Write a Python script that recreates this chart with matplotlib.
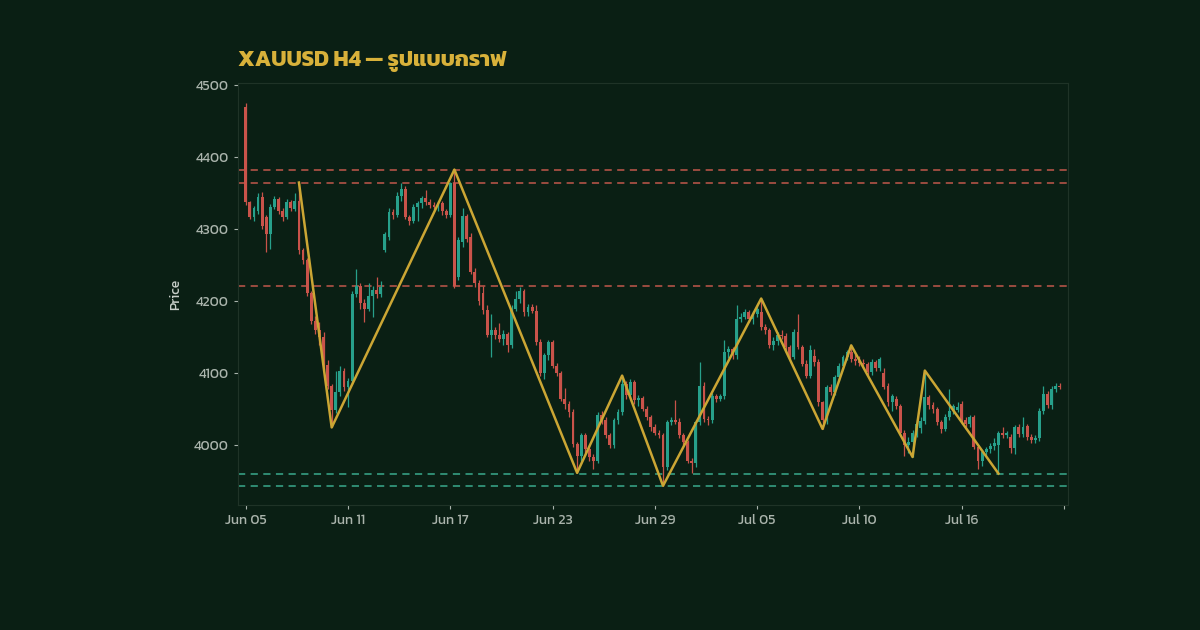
import matplotlib
matplotlib.use("Agg")
import matplotlib.pyplot as plt
from matplotlib import font_manager, ft2font

# H4 candles, index 0..199
opens = [4470, 4338, 4317, 4325, 4345, 4317, 4294, 4331, 4342, 4326,
         4317, 4338, 4328, 4340, 4271, 4257, 4211, 4173, 4160, 4150,
         4112, 4083, 4049, 4074, 4104, 4081, 4090, 4210, 4221, 4198,
         4190, 4208, 4216, 4210, 4271, 4289, 4324, 4320, 4347, 4356,
         4317, 4312, 4331, 4336, 4343, 4338, 4334, 4331, 4336, 4325,
         4320, 4364, 4234, 4283, 4319, 4290, 4241, 4225, 4212, 4188,
         4153, 4160, 4153, 4148, 4155, 4139, 4190, 4204, 4214, 4185,
         4192, 4187, 4143, 4100, 4125, 4143, 4111, 4100, 4065, 4058,
         4046, 4002, 3986, 4014, 3995, 3984, 3979, 4042, 4035, 4014,
         4001, 4035, 4046, 4086, 4070, 4088, 4063, 4066, 4051, 4039,
         4025, 4018, 4014, 3970, 4032, 4035, 4033, 4014, 4005, 3979,
         3975, 4032, 4083, 4037, 4035, 4069, 4065, 4068, 4130, 4134,
         4125, 4176, 4178, 4185, 4176, 4182, 4185, 4164, 4160, 4139,
         4145, 4154, 4152, 4137, 4123, 4157, 4137, 4113, 4097, 4124,
         4116, 4060, 4035, 4081, 4074, 4095, 4111, 4123, 4130, 4120,
         4117, 4114, 4113, 4102, 4116, 4107, 4100, 4083, 4060, 4065,
         4055, 4018, 4000, 4005, 4018, 4024, 4034, 4067, 4056, 4050,
         4032, 4023, 4039, 4048, 4049, 4058, 4035, 4030, 4039, 3998,
         3979, 3991, 3995, 3999, 4000, 4018, 4014, 4012, 3996, 4025,
         4016, 4027, 4012, 4007, 4010, 4048, 4072, 4056, 4079, 4083]
highs = [4476, 4340, 4333, 4350, 4352, 4320, 4335, 4347, 4345, 4330,
         4342, 4341, 4350, 4365, 4274, 4260, 4214, 4180, 4172, 4158,
         4118, 4086, 4104, 4110, 4108, 4094, 4214, 4245, 4226, 4203,
         4225, 4222, 4234, 4228, 4296, 4330, 4328, 4352, 4365, 4360,
         4320, 4335, 4340, 4346, 4354, 4342, 4338, 4340, 4339, 4328,
         4366, 4383, 4290, 4329, 4322, 4295, 4246, 4230, 4222, 4195,
         4183, 4165, 4170, 4160, 4158, 4195, 4215, 4220, 4217, 4196,
         4196, 4195, 4148, 4128, 4146, 4146, 4115, 4104, 4080, 4062,
         4050, 4005, 4018, 4018, 4000, 3988, 4046, 4048, 4040, 4018,
         4038, 4050, 4097, 4090, 4092, 4091, 4070, 4069, 4055, 4042,
         4030, 4022, 4017, 4036, 4040, 4063, 4038, 4018, 4008, 3982,
         4036, 4116, 4088, 4041, 4073, 4072, 4072, 4146, 4138, 4137,
         4195, 4184, 4190, 4188, 4186, 4194, 4204, 4168, 4163, 4150,
         4158, 4160, 4156, 4140, 4162, 4183, 4140, 4118, 4140, 4134,
         4120, 4062, 4084, 4085, 4098, 4115, 4126, 4133, 4139, 4127,
         4124, 4120, 4116, 4120, 4119, 4123, 4108, 4087, 4072, 4068,
         4058, 4022, 4012, 4022, 4036, 4040, 4104, 4070, 4060, 4054,
         4036, 4044, 4079, 4058, 4060, 4062, 4040, 4042, 4043, 4000,
         3994, 3998, 4003, 4010, 4020, 4025, 4020, 4016, 4028, 4030,
         4039, 4030, 4016, 4014, 4052, 4083, 4076, 4082, 4087, 4087]
lows = [4334, 4314, 4312, 4322, 4300, 4268, 4273, 4328, 4322, 4312,
        4314, 4325, 4325, 4266, 4252, 4208, 4168, 4155, 4140, 4105,
        4078, 4025, 4045, 4068, 4076, 4053, 4086, 4206, 4190, 4171,
        4186, 4178, 4205, 4206, 4268, 4285, 4315, 4317, 4340, 4314,
        4306, 4309, 4312, 4330, 4334, 4330, 4327, 4326, 4320, 4316,
        4317, 4218, 4230, 4276, 4283, 4238, 4220, 4195, 4183, 4150,
        4123, 4148, 4143, 4140, 4130, 4135, 4186, 4198, 4180, 4180,
        4184, 4140, 4097, 4092, 4118, 4108, 4096, 4062, 4050, 4040,
        3998, 3962, 3978, 3990, 3978, 3968, 3975, 4030, 4010, 3996,
        3997, 4030, 4042, 4065, 4066, 4058, 4055, 4048, 4035, 4020,
        4014, 4010, 3944, 3966, 4028, 4030, 4010, 4000, 3975, 3962,
        3970, 4028, 4033, 4028, 4031, 4060, 4062, 4064, 4122, 4120,
        4120, 4172, 4175, 4172, 4168, 4178, 4160, 4155, 4135, 4132,
        4140, 4148, 4130, 4120, 4120, 4134, 4110, 4094, 4094, 4110,
        4055, 4023, 4030, 4070, 4070, 4090, 4106, 4118, 4116, 4112,
        4110, 4108, 4098, 4098, 4104, 4104, 4078, 4055, 4048, 4050,
        4015, 3986, 3990, 3984, 4012, 4018, 4030, 4050, 4045, 4028,
        4018, 4020, 4035, 4044, 4046, 4030, 4026, 4026, 3995, 3968,
        3972, 3986, 3990, 3994, 3961, 4010, 4010, 3990, 3988, 4012,
        4012, 4008, 4003, 4003, 4006, 4044, 4052, 4050, 4074, 4078]
closes = [4338, 4317, 4329, 4345, 4305, 4294, 4331, 4342, 4326, 4317,
          4338, 4330, 4340, 4271, 4257, 4211, 4173, 4160, 4150, 4112,
          4083, 4049, 4074, 4104, 4081, 4090, 4210, 4221, 4198, 4190,
          4208, 4216, 4210, 4220, 4294, 4324, 4320, 4347, 4356, 4317,
          4312, 4331, 4336, 4343, 4338, 4334, 4331, 4336, 4325, 4320,
          4364, 4222, 4285, 4319, 4287, 4241, 4225, 4201, 4188, 4153,
          4160, 4153, 4148, 4155, 4139, 4190, 4204, 4214, 4185, 4192,
          4187, 4143, 4100, 4125, 4143, 4111, 4100, 4065, 4058, 4046,
          4002, 3986, 4014, 3995, 3984, 3979, 4042, 4035, 4014, 4001,
          4035, 4046, 4086, 4070, 4088, 4063, 4066, 4051, 4039, 4025,
          4018, 4014, 3970, 4032, 4035, 4033, 4014, 4005, 3979, 3975,
          4032, 4083, 4037, 4035, 4069, 4065, 4068, 4130, 4134, 4125,
          4176, 4178, 4185, 4176, 4182, 4190, 4164, 4160, 4139, 4145,
          4154, 4152, 4137, 4123, 4157, 4137, 4113, 4097, 4132, 4116,
          4060, 4035, 4081, 4074, 4095, 4111, 4123, 4130, 4120, 4117,
          4114, 4113, 4102, 4116, 4107, 4120, 4081, 4060, 4068, 4055,
          4018, 4000, 4005, 4018, 4030, 4034, 4067, 4056, 4050, 4032,
          4023, 4039, 4048, 4055, 4053, 4035, 4030, 4039, 3998, 3979,
          3991, 3995, 3999, 4003, 4018, 4014, 4017, 3996, 4025, 4016,
          4025, 4012, 4007, 4010, 4048, 4072, 4056, 4079, 4083, 4081]

zz_idx = [13, 21, 51, 81, 92, 102, 126, 141, 148, 163, 166, 184]
zz_price = [4365, 4025, 4383, 3962, 4097, 3944, 4204, 4023, 4139, 3984, 4104, 3961]

resistance = [4383, 4365, 4222]
support = [3961, 3944]

tick_pos = [0, 25, 50, 75, 100, 125, 150, 175, 200]
tick_lab = ['Jun 05', 'Jun 11', 'Jun 17', 'Jun 23', 'Jun 29', 'Jul 05', 'Jul 10', 'Jul 16', '']

BG = '#0a1f14'
UP = '#27a08b'
DOWN = '#c9534a'
GOLD = '#d8b13a'


def find_thai():
    # prefer a rounded Thai face (Kanit / Prompt) when one is present
    found = []
    for f in font_manager.fontManager.ttflist:
        try:
            if 0x0E23 in ft2font.FT2Font(f.fname).get_charmap():
                found.append(f.name)
        except Exception:
            pass
    for pref in ['Kanit', 'Prompt', 'Mitr', 'Sarabun', 'Noto Sans Thai', 'Noto Sans Thai Looped']:
        if pref in found:
            return pref
    return found[0] if found else None


thai = find_thai()
fams = [thai, 'DejaVu Sans'] if thai else ['DejaVu Sans']
plt.rcParams['font.family'] = fams

fig = plt.figure(figsize=(12, 6.3), dpi=100, facecolor=BG)
ax = fig.add_axes([0.198, 0.198, 0.692, 0.67], facecolor=BG)

for i in range(len(closes)):
    c = UP if closes[i] >= opens[i] else DOWN
    ax.vlines(i, lows[i], highs[i], color=c, lw=0.9, zorder=2)
    lo = min(opens[i], closes[i])
    h = max(abs(closes[i] - opens[i]), 0.8)
    ax.bar(i, h, bottom=lo, width=0.7, color=c, edgecolor='none', zorder=3)

for lv in resistance:
    ax.axhline(lv, color='#c0574b', lw=1.3, ls=(0, (4, 3)), alpha=0.85, zorder=1)
for lv in support:
    ax.axhline(lv, color='#3aa98c', lw=1.3, ls=(0, (4, 3)), alpha=0.85, zorder=1)

ax.plot(zz_idx, zz_price, color='#cba634', lw=1.8, zorder=4)

ax.set_xlim(-2, 201)
ax.set_ylim(3917, 4503)
ax.set_xticks(tick_pos)
ax.set_xticklabels(tick_lab)
ax.set_yticks([4000, 4100, 4200, 4300, 4400, 4500])
ax.tick_params(colors='#aab4ac', labelsize=10, length=3, width=0.8)
for s in ax.spines.values():
    s.set_color('#1f3327')
    s.set_linewidth(0.8)
ax.set_ylabel('Price', color='#c9d0ca', fontsize=10, labelpad=8)

fig.text(0.198, 0.903, 'XAUUSD H4 — รูปแบบกราฟ', color=GOLD, fontsize=16,
         fontweight='bold', ha='left', va='center')

fig.savefig('out.png', dpi=100, facecolor=BG)
